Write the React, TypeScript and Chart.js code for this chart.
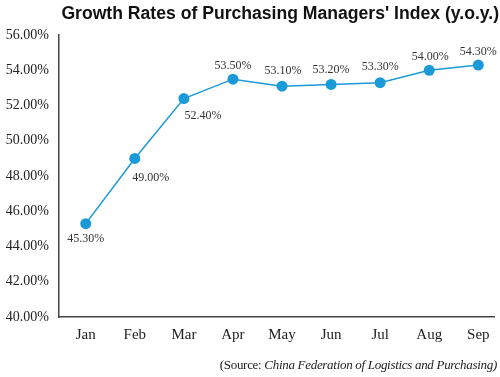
import React, { useEffect, useRef } from "react";
import { Chart, registerables } from "chart.js";

Chart.register(...registerables);

const months = ["Jan", "Feb", "Mar", "Apr", "May", "Jun", "Jul", "Aug", "Sep"];
const pmiGrowth = [45.3, 49.0, 52.4, 53.5, 53.1, 53.2, 53.3, 54.0, 54.3];
const yTicks = [40, 42, 44, 46, 48, 50, 52, 54, 56];

const TITLE = "Growth Rates of Purchasing Managers' Index (y.o.y.)";

export default function App() {
  const ref = useRef<HTMLCanvasElement | null>(null);

  useEffect(() => {
    if (!ref.current) return;
    const labelOffsets: [number, number][] = [
      [0, 15], [16, 19], [19, 17], [0, -13], [1, -15], [0, -15], [0, -16], [1, -14], [0, -13],
    ];
    const labelPlugin = {
      id: "pointLabels",
      afterDatasetsDraw(chart: any) {
        const ctx = chart.ctx;
        const meta = chart.getDatasetMeta(0);
        ctx.save();
        ctx.font = "12px 'Liberation Serif', serif";
        ctx.fillStyle = "#333333";
        ctx.textAlign = "center";
        ctx.textBaseline = "middle";
        meta.data.forEach((el: any, i: number) => {
          const v = chart.data.datasets[0].data[i].y;
          const [dx, dy] = labelOffsets[i];
          ctx.fillText(v.toFixed(2) + "%", el.x + dx, el.y + dy);
        });
        ctx.restore();
      },
    };

    const chart = new Chart(ref.current, {
      type: "line",
      data: {
        datasets: [
          {
            data: pmiGrowth.map((v, i) => ({ x: i, y: v })),
            borderColor: "#1b9ad8",
            backgroundColor: "#1b9ad8",
            borderWidth: 1.5,
            pointRadius: 5.5,
            pointBorderWidth: 0,
            pointBackgroundColor: "#1b9ad8",
            tension: 0,
          },
        ],
      },
      options: {
        animation: false,
        responsive: false,
        maintainAspectRatio: false,
        layout: { padding: { left: 0, right: 1, top: 0, bottom: 0 } },
        plugins: {
          legend: { display: false },
          tooltip: { enabled: false },
          title: {
            display: true,
            text: TITLE,
            align: "end",
            color: "#111111",
            font: { family: "'Liberation Sans', Arial, sans-serif", size: 17.6, weight: "bold" },
            padding: { top: 4, bottom: 10 },
          },
        },
        scales: {
          x: {
            type: "linear",
            min: -0.545,
            max: 8.33,
            afterBuildTicks: (axis: any) => {
              axis.ticks = months.map((_, i) => ({ value: i }));
            },
            afterFit: (axis: any) => {
              axis.height = 60;
            },
            grid: { display: false, drawTicks: false },
            border: { display: true, color: "#444444", width: 1.5 },
            ticks: {
              autoSkip: false,
              maxRotation: 0,
              padding: 9,
              color: "#222222",
              font: { family: "'Liberation Serif', serif", size: 15 },
              callback: (v: any) => months[Math.round(Number(v))] ?? "",
            },
          },
          y: {
            type: "linear",
            min: 40,
            max: 56,
            afterBuildTicks: (axis: any) => {
              axis.ticks = yTicks.map((v) => ({ value: v }));
            },
            afterFit: (axis: any) => {
              axis.width = 59;
            },
            grid: { display: false, drawTicks: false },
            border: { display: true, color: "#444444", width: 1.5 },
            ticks: {
              padding: 10,
              color: "#222222",
              font: { family: "'Liberation Serif', serif", size: 14 },
              callback: (v: any) => Number(v).toFixed(2) + "%",
            },
          },
        },
      },
      plugins: [labelPlugin],
    } as any);
    return () => chart.destroy();
  }, []);

  return (
    <div style={{ position: "fixed", left: 0, top: 0, width: 500, height: 377, background: "#ffffff" }}>
      <canvas ref={ref} width={500} height={377} style={{ display: "block" }} />
      <div
        style={{
          position: "absolute",
          right: 3,
          top: 357,
          fontFamily: "'Liberation Serif', serif",
          fontSize: 13,
          letterSpacing: "-0.3px",
          lineHeight: "16px",
          color: "#222222",
          whiteSpace: "nowrap",
        }}
      >
        (Source: <i>China Federation of Logistics and Purchasing)</i>
      </div>
    </div>
  );
}
